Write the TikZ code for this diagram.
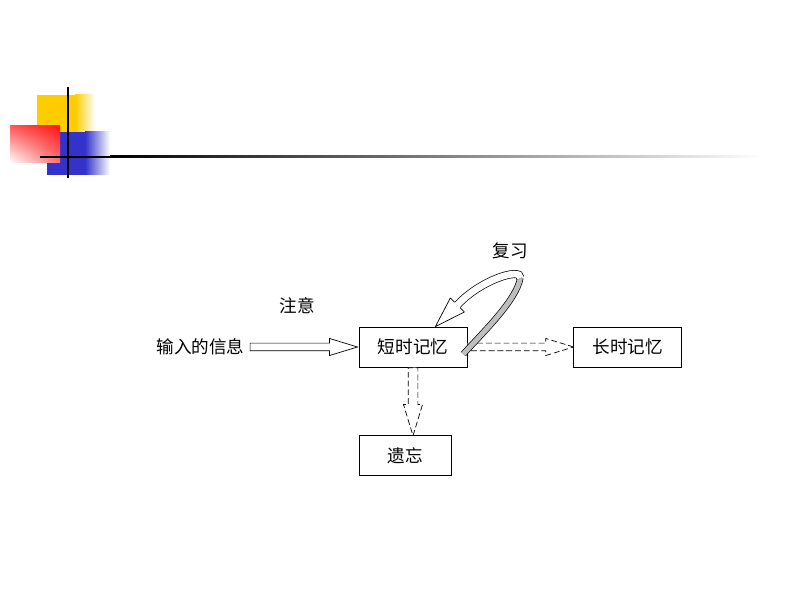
\documentclass[tikz,border=0pt]{standalone}
\usepackage{fontspec}
\setmainfont{Noto Sans CJK SC}
\usepackage{xcolor}
\usetikzlibrary{arrows.meta, positioning, shapes.arrows, calc, shadings}

\definecolor{decoyellow}{RGB}{255,204,0}
\definecolor{decored}{RGB}{255,20,20}
\definecolor{decoblue}{RGB}{51,51,204}
\definecolor{bandgray}{RGB}{190,190,190}

\begin{document}
\begin{tikzpicture}[
    x=0.03cm, y=-0.03cm,
    box/.style={rectangle, draw, line width=0.6pt, minimum width=3.24cm,
                minimum height=1.2cm, inner sep=0pt, font=\fontsize{15}{17}\selectfont},
    lbl/.style={inner sep=0pt, font=\fontsize{15}{17}\selectfont},
    hollow/.style={single arrow, draw, line width=0.6pt, fill=white, inner xsep=0pt,
                   inner ysep=0.105cm, single arrow head extend=0.14cm,
                   single arrow tip angle=34},
    dashedhollow/.style={hollow, dash pattern=on 5pt off 2.5pt},
]
\useasboundingbox (0,0) rectangle (800,600);

% Title decoration
\fill[decoyellow] (37,95) rectangle (75,133);
\shade[left color=decoyellow, right color=white] (75,95) rectangle (95,133);
\fill[decoblue] (47,132) rectangle (85,175);
\shade[left color=decoblue, right color=white] (85,132) rectangle (110,175);
\shade[upper right=decored, upper left=decored!70, lower right=decored!60, lower left=white]
    (10,126) rectangle (60,163);
\fill[black] (40,156) rectangle (110,158);
\shade[left color=black, right color=white] (110,156) rectangle (764,158);
\fill[black] (67,87) rectangle (69,178);

% Boxes
\node[box] (stm) at (413,347) {短时记忆};
\node[box, right=3.18cm of stm] (ltm) {长时记忆};
\node[box, minimum width=2.76cm, below=2.04cm of stm.south west, anchor=north west] (forget) {遗忘};

% Labels
\node[lbl, left=3.42cm of stm] (info) {输入的信息};
\node[lbl] (attn) at (297,306) {注意};
\node[lbl] (review) at (510,251) {复习};

% Hollow arrows
\path let \p1=(info.east), \p2=(stm.west) in
    node[hollow, minimum height={\x2-\x1-0.2cm}, anchor=tip] (inarrow) at (stm.west) {};
\path let \p1=(stm.east), \p2=(ltm.west) in
    node[dashedhollow, minimum height={\x2-\x1}, anchor=tail] (toltm) at (stm.east) {};
\path let \p1=(stm.south), \p2=(forget.north) in
    node[dashedhollow, shape border rotate=270, inner xsep=0.135cm, inner ysep=0pt,
         minimum height={\y1-\y2}, anchor=tail] (toforget) at (stm.south) {};

% Rehearsal loop
\coordinate (rs) at ($(stm.east)+(-4,7)$);
\coordinate (rt) at ($(stm.east)+(53,-69)$);
\coordinate (rb) at ($(stm.east)+(-10,-42)$);
\coordinate (rh1) at ($(rb)+(7,7)$);
\coordinate (rh2) at ($(rb)+(-7,-7)$);
\coordinate (rtip) at ($(stm.north east)+(-32,0)$);

\draw[line width=0.6pt, double=bandgray, double distance=0.15cm]
    (rs) .. controls ($(stm.east)+(18,-17)$) and ($(stm.east)+(49,-47)$) .. (rt);
\draw[line width=0.6pt, double=white, double distance=0.2cm]
    (rt) .. controls ($(stm.east)+(54,-80)$) and ($(stm.east)+(13,-67)$) .. (rb);
\fill[white] (rh1) -- (rtip) -- (rh2) -- cycle;
\draw[line width=0.6pt, line join=round] ($(rb)!0.4!(rh1)$) -- (rh1) -- (rtip) -- (rh2) -- ($(rb)!0.4!(rh2)$);

\end{tikzpicture}
\end{document}
